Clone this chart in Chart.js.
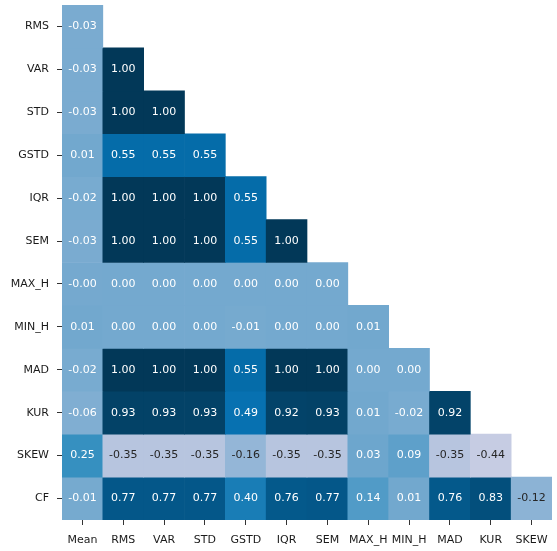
<!DOCTYPE html>
<html>
<head>
<meta charset="utf-8">
<script src="https://cdn.jsdelivr.net/npm/chart.js@4"></script>
<style>
  body { margin: 0; background: #fff; }
  canvas { display: block; }
</style>
</head>
<body>
<canvas id="heat" width="557" height="551"></canvas>
<script>
const rowLabels = ['RMS', 'VAR', 'STD', 'GSTD', 'IQR', 'SEM', 'MAX_H', 'MIN_H', 'MAD', 'KUR', 'SKEW', 'CF'];
const colLabels = ['Mean', 'RMS', 'VAR', 'STD', 'GSTD', 'IQR', 'SEM', 'MAX_H', 'MIN_H', 'MAD', 'KUR', 'SKEW'];

// lower triangle of the correlation matrix, one row per feature
const corr = [
  [-0.03],
  [-0.03, 1.00],
  [-0.03, 1.00, 1.00],
  [0.01, 0.55, 0.55, 0.55],
  [-0.02, 1.00, 1.00, 1.00, 0.55],
  [-0.03, 1.00, 1.00, 1.00, 0.55, 1.00],
  [-0.004, 0.00, 0.00, 0.00, 0.00, 0.00, 0.00],
  [0.01, 0.00, 0.00, 0.00, -0.01, 0.00, 0.00, 0.01],
  [-0.02, 1.00, 1.00, 1.00, 0.55, 1.00, 1.00, 0.00, 0.00],
  [-0.06, 0.93, 0.93, 0.93, 0.49, 0.92, 0.93, 0.01, -0.02, 0.92],
  [0.25, -0.35, -0.35, -0.35, -0.16, -0.35, -0.35, 0.03, 0.09, -0.35, -0.44],
  [-0.01, 0.77, 0.77, 0.77, 0.40, 0.76, 0.77, 0.14, 0.01, 0.76, 0.83, -0.12]
];

// PuBu colour map, scaled over -1..1
const pubu = ['#fff7fb', '#ece7f2', '#d0d1e6', '#a6bddb', '#74a9cf', '#3690c0', '#0570b0', '#045a8d', '#023858'];
const hexRgb = h => [1, 3, 5].map(i => parseInt(h.substr(i, 2), 16));

function cmapRgb(v) {
  let t = Math.min(1, Math.max(0, (v + 1) / 2));
  const pos = t * (pubu.length - 1);
  const i = Math.min(pubu.length - 2, Math.floor(pos));
  const f = pos - i;
  const a = hexRgb(pubu[i]), b = hexRgb(pubu[i + 1]);
  return a.map((x, k) => Math.round(x + (b[k] - x) * f));
}
const cmap = v => 'rgb(' + cmapRgb(v).join(',') + ')';

function textColor(v) {
  const lin = cmapRgb(v).map(c => {
    c /= 255;
    return c <= 0.03928 ? c / 12.92 : Math.pow((c + 0.055) / 1.055, 2.4);
  });
  const lum = 0.2126 * lin[0] + 0.7152 * lin[1] + 0.0722 * lin[2];
  return lum > 0.408 ? '#262626' : '#ffffff';
}

const datasets = corr.map((row, r) => ({
  data: row.map((v, c) => ({ x: colLabels[c], y: [r, r + 1] })),
  backgroundColor: row.map(v => cmap(v)),
  borderWidth: 0,
  grouped: false,
  barPercentage: 1,
  categoryPercentage: 1
}));

const cellText = {
  id: 'cellText',
  afterDatasetsDraw(chart) {
    const ctx = chart.ctx;
    ctx.save();
    ctx.font = '11px "DejaVu Sans"';
    ctx.textAlign = 'center';
    ctx.textBaseline = 'middle';
    corr.forEach((row, r) => {
      chart.getDatasetMeta(r).data.forEach((bar, c) => {
        ctx.fillStyle = textColor(row[c]);
        ctx.fillText(row[c].toFixed(2), bar.x, (bar.y + bar.base) / 2);
      });
    });
    ctx.restore();
  }
};

Chart.defaults.font.family = '"DejaVu Sans"';
Chart.defaults.font.size = 11;
Chart.defaults.color = '#1a1a1a';

new Chart(document.getElementById('heat'), {
  type: 'bar',
  data: { labels: colLabels, datasets: datasets },
  plugins: [cellText],
  options: {
    responsive: false,
    animation: false,
    layout: { padding: { top: 5, right: 5, left: 0, bottom: 0 } },
    plugins: { legend: { display: false }, tooltip: { enabled: false } },
    scales: {
      x: {
        type: 'category',
        offset: true,
        grid: { offset: false, drawOnChartArea: false, tickLength: 5, color: '#333' },
        border: { display: false },
        ticks: { autoSkip: false, maxRotation: 0, padding: 9 },
        afterFit: s => { s.height = 31; s.paddingLeft = 0; s.paddingRight = 0; }
      },
      y: {
        type: 'linear',
        min: 0,
        max: 12,
        reverse: true,
        afterBuildTicks: s => { s.ticks = rowLabels.map((_, i) => ({ value: i + 0.5 })); },
        grid: { drawOnChartArea: false, tickLength: 5, color: '#333' },
        border: { display: false },
        ticks: { padding: 8, callback: (v, i) => rowLabels[i] },
        afterFit: s => { s.width = 62; s.paddingTop = 0; s.paddingBottom = 0; }
      }
    }
  }
});
</script>
</body>
</html>
